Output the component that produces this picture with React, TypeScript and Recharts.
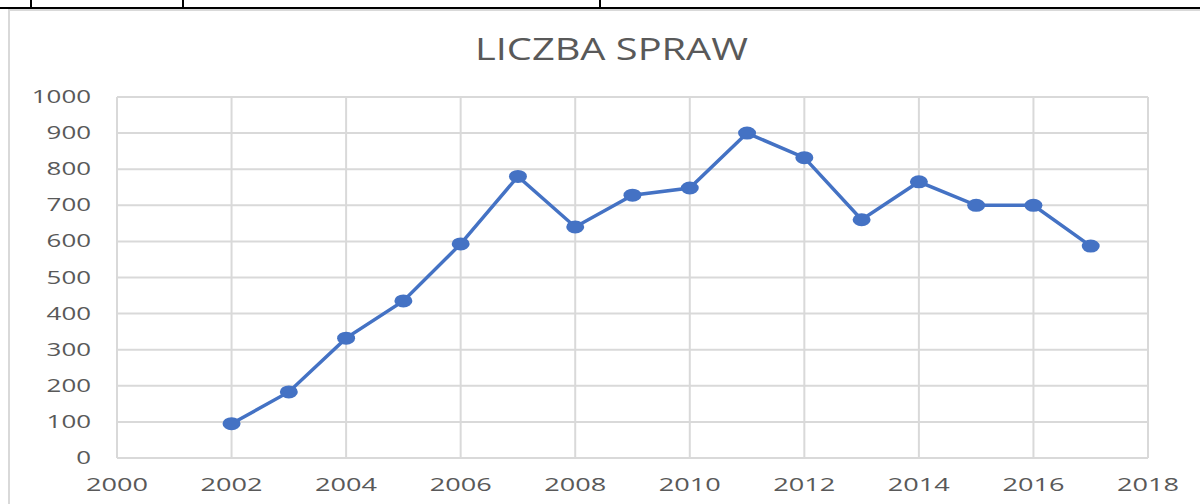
import React from "react";
import {CartesianGrid, Line, LineChart, XAxis, YAxis} from "recharts";

const years = [2002, 2003, 2004, 2005, 2006, 2007, 2008, 2009, 2010, 2011, 2012, 2013, 2014, 2015, 2016, 2017];
const cases = [95, 183, 332, 435, 593, 780, 640, 728, 748, 900, 832, 660, 765, 700, 700, 587];
const xTicks = [2000, 2002, 2004, 2006, 2008, 2010, 2012, 2014, 2016, 2018];
const yTicks = [0, 100, 200, 300, 400, 500, 600, 700, 800, 900, 1000];
const title = "LICZBA SPRAW";

const data = years.map((year, i) => ({year, value: cases[i]}));

const GRAY_TEXT = "#595959";
const GRID = "#d9d9d9";
const BLUE = "#4472C4";
const FONT = "'Open Sans', 'Liberation Sans', sans-serif";

const XTick = (props: any) => {
    const {x, y, payload} = props;
    const label = String(payload.value);
    return (
        <text x={x} y={y + 13} textAnchor="middle" fill={GRAY_TEXT} fontSize={18} fontFamily={FONT}
              textLength={label.length * 15.5} lengthAdjust="spacingAndGlyphs">
            {label}
        </text>
    );
};

const YTick = (props: any) => {
    const {x, y, payload} = props;
    const label = String(payload.value);
    return (
        <text x={x} y={y + 6} textAnchor="end" fill={GRAY_TEXT} fontSize={18} fontFamily={FONT}
              textLength={label.length * 14.8} lengthAdjust="spacingAndGlyphs">
            {label}
        </text>
    );
};

const Dot = (props: any) => {
    const {cx, cy, index} = props;
    return <ellipse key={`dot-${index}`} cx={cx} cy={cy} rx={9} ry={6.5} fill={BLUE}/>;
};

export default function App() {
    return (
        <div style={{position: "absolute", left: 0, top: 0, width: 1200, height: 504, background: "#fff", overflow: "hidden"}}>
            <svg width={1200} height={504} style={{position: "absolute", left: 0, top: 0}}>
                <rect x={9} y={10} width={1400} height={700} fill="none" stroke={GRID} strokeWidth={2}/>
                <line x1={0} y1={8} x2={1200} y2={8} stroke="#000" strokeWidth={2}/>
                <line x1={31} y1={0} x2={31} y2={8} stroke="#000" strokeWidth={2}/>
                <line x1={183} y1={0} x2={183} y2={8} stroke="#000" strokeWidth={2}/>
                <line x1={600} y1={0} x2={600} y2={8} stroke="#000" strokeWidth={2}/>
                <text x={611.5} y={60} textAnchor="middle" fill={GRAY_TEXT} fontSize={31} fontFamily={FONT}
                      textLength={273} lengthAdjust="spacingAndGlyphs">
                    {title}
                </text>
            </svg>
            <div style={{position: "absolute", left: 0, top: 0}}>
                <LineChart width={1200} height={504} data={data}
                           margin={{top: 97, right: 52, bottom: 0, left: 0}}
                >
                    <CartesianGrid stroke={GRID} strokeWidth={2}/>
                    <XAxis dataKey="year" type="number" domain={[2000, 2018]} ticks={xTicks}
                           height={46} axisLine={{stroke: GRID, strokeWidth: 2}} tickLine={false}
                           tickSize={0} tickMargin={20} tick={<XTick/>} interval={0}
                    />
                    <YAxis type="number" domain={[0, 1000]} ticks={yTicks} width={117}
                           axisLine={{stroke: GRID, strokeWidth: 2}} tickLine={false}
                           tickSize={0} tickMargin={26} tick={<YTick/>} interval={0}
                    />
                    <Line dataKey="value" stroke={BLUE} strokeWidth={3.5} dot={Dot}
                          activeDot={false} isAnimationActive={false}
                    />
                </LineChart>
            </div>
        </div>
    );
}
